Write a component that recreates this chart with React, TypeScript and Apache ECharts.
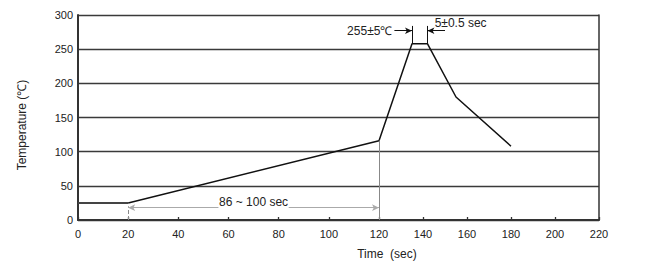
import { useEffect, useRef } from "react";
import * as echarts from "echarts";

// Axis ranges / ticks
const yMin = 0;
const yMax = 300;
const yStep = 50;
const xLeftMin = 0;
const xLeftMax = 120;
const xRightMin = 120;
const xRightMax = 220;
const xStep = 20;

// Profile data (time sec, temperature ℃)
const flatSegment: [number, number][] = [[0, 25], [20, 25]];
const rampSegment: [number, number][] = [[20, 25], [120, 116]];
const peakSegment: [number, number][] = [[120, 116], [135, 258], [142, 258], [155, 180], [180, 108]];

// Annotation values
const rampStart = 20;
const rampEnd = 120;
const rampArrowY = 18;
const rampTextGap: [number, number] = [56, 84];
const rampText = "86 ~ 100 sec";
const peakStart = 135;
const peakEnd = 142;
const peakTop = 258;
const peakTickTop = 284;
const peakArrowY = 277;
const peakText = "255±5℃";
const dwellText = "5±0.5 sec";

const FONT = "'Liberation Sans', Arial, sans-serif";

export default function App() {
  const ref = useRef<HTMLDivElement>(null);
  useEffect(() => {
    if (!ref.current) return;
    const chart = echarts.init(ref.current, undefined, { renderer: "svg" });
    const gridLine = { color: "#3a3a3a", width: 1.3 };
    const axisLabel = { color: "#222", fontSize: 11, fontFamily: FONT };
    const option: any = {
      animation: false,
      backgroundColor: "#fff",
      textStyle: { fontFamily: FONT },
      grid: [
        { left: 78, top: 15, width: 301, height: 205 },
        { left: 379, top: 15, width: 220, height: 205 },
      ],
      xAxis: [
        {
          type: "value", gridIndex: 0, min: xLeftMin, max: xLeftMax, interval: xStep,
          axisLine: { show: true, lineStyle: { color: "#333", width: 2 } },
          axisTick: { show: true, inside: true, length: 3, lineStyle: { color: "#333", width: 1.3 } },
          axisLabel: { ...axisLabel, margin: 8 },
          splitLine: { show: false },
        },
        {
          type: "value", gridIndex: 1, min: xRightMin, max: xRightMax, interval: xStep,
          axisLine: { show: true, lineStyle: { color: "#333", width: 2 } },
          axisTick: { show: true, inside: true, length: 3, lineStyle: { color: "#333", width: 1.3 } },
          axisLabel: { ...axisLabel, margin: 8, showMinLabel: false },
          splitLine: { show: false },
        },
      ],
      yAxis: [
        {
          type: "value", gridIndex: 0, min: yMin, max: yMax, interval: yStep,
          axisLine: { show: true, lineStyle: { color: "#333", width: 2 } },
          axisTick: { show: false },
          axisLabel: { ...axisLabel, margin: 5 },
          splitLine: { show: true, lineStyle: gridLine },
        },
        {
          type: "value", gridIndex: 1, min: yMin, max: yMax, interval: yStep, position: "right",
          axisLine: { show: true, lineStyle: { color: "#333", width: 1.5 } },
          axisTick: { show: false },
          axisLabel: { show: false },
          splitLine: { show: true, lineStyle: gridLine },
        },
      ],
      series: [
        {
          type: "line", xAxisIndex: 0, yAxisIndex: 0, data: flatSegment,
          symbol: "none", lineStyle: { color: "#444", width: 2 },
        },
        {
          type: "line", xAxisIndex: 0, yAxisIndex: 0, data: rampSegment,
          symbol: "none", lineStyle: { color: "#111", width: 1.5 },
          markLine: {
            silent: true, animation: false,
            symbol: ["none", "none"],
            label: { show: false },
            lineStyle: { color: "#888", width: 1, type: "solid" },
            data: [
              [{ coord: [rampEnd, 0] }, { coord: [rampEnd, rampSegment[1][1]] }],
              [
                { coord: [rampStart, 0], lineStyle: { type: "dashed", color: "#888" } },
                { coord: [rampStart, rampArrowY + 2] },
              ],
              [
                { coord: [rampTextGap[0], rampArrowY], symbol: "none", lineStyle: { color: "#aaa" } },
                { coord: [rampStart, rampArrowY], symbol: "arrow", symbolSize: [5, 7] },
              ],
              [
                { coord: [rampTextGap[1], rampArrowY], symbol: "none", lineStyle: { color: "#aaa" } },
                { coord: [rampEnd, rampArrowY], symbol: "arrow", symbolSize: [5, 7] },
              ],
            ],
          },
          markPoint: {
            silent: true, animation: false,
            symbol: "circle", symbolSize: 0,
            data: [
              {
                coord: [70, 27],
                label: { show: true, position: "inside", formatter: rampText, color: "#222", fontSize: 12, fontFamily: FONT },
              },
            ],
          },
        },
        {
          type: "line", xAxisIndex: 1, yAxisIndex: 1, data: peakSegment,
          symbol: "none", lineStyle: { color: "#111", width: 1.5 },
          markLine: {
            silent: true, animation: false,
            symbol: ["none", "none"],
            label: { show: false },
            lineStyle: { color: "#111", width: 1, type: "solid" },
            data: [
              [{ coord: [peakStart, peakTop] }, { coord: [peakStart, peakTickTop] }],
              [{ coord: [peakEnd, peakTop] }, { coord: [peakEnd, peakTickTop] }],
              [
                {
                  coord: [127, peakArrowY], symbol: "none",
                  label: { show: true, position: "start", distance: 2, formatter: peakText, color: "#222", fontSize: 12, fontFamily: FONT },
                },
                { coord: [peakStart, peakArrowY], symbol: "arrow", symbolSize: [5, 7] },
              ],
              [
                { coord: [150, peakArrowY], symbol: "none" },
                { coord: [peakEnd, peakArrowY], symbol: "arrow", symbolSize: [5, 7] },
              ],
            ],
          },
          markPoint: {
            silent: true, animation: false,
            symbol: "circle", symbolSize: 0,
            data: [
              {
                coord: [145.3, 289],
                label: { show: true, position: "right", distance: 0, formatter: dwellText, color: "#222", fontSize: 12, fontFamily: FONT },
              },
            ],
          },
        },
      ],
      graphic: [
        {
          type: "text", x: 22, y: 125, rotation: Math.PI / 2,
          style: { text: "Temperature (℃)", fill: "#222", font: `12px ${FONT}`, align: "center", verticalAlign: "middle" },
        },
        {
          type: "text", x: 387, y: 254,
          style: { text: "Time  (sec)", fill: "#222", font: `12px ${FONT}`, align: "center", verticalAlign: "middle" },
        },
      ],
    };
    chart.setOption(option);
    return () => chart.dispose();
  }, []);
  return <div ref={ref} style={{ position: "fixed", left: 0, top: 0, width: 660, height: 279 }} />;
}
